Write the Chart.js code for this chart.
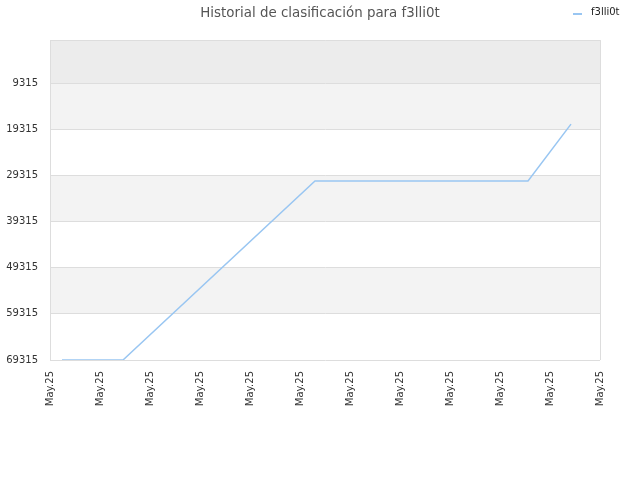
<!DOCTYPE html>
<html>
<head>
<meta charset="utf-8">
<script src="https://cdn.jsdelivr.net/npm/chart.js@4"></script>
<style>
  html, body { margin: 0; padding: 0; background: #fff; }
  #wrap { width: 640px; height: 480px; }
</style>
</head>
<body>
<div id="wrap"><canvas id="chart" width="640" height="480"></canvas></div>
<script>
const titleText = 'Historial de clasificación para f3lli0t';
const seriesName = 'f3lli0t';
const xLabel = 'May.25';
const xPos = [0.24, 1.46, 5.3, 9.56, 10.42];
const rankValues = [69315, 69315, 30545, 30545, 18200];
const yTicks = [0, 9315, 19315, 29315, 39315, 49315, 59315, 69315];
const bandColors = ['#ececec', '#f3f3f3', '#ffffff', '#f3f3f3', '#ffffff', '#f3f3f3', '#ffffff'];

const lineColor = '#99c6f2';
const font = '"DejaVu Sans", sans-serif';

// shaded bands behind the plot, plus the small legend next to the title
const decor = {
  id: 'decor',
  beforeDraw(chart) {
    const { ctx, chartArea } = chart;
    const y = chart.scales.y;
    ctx.save();
    for (let i = 0; i < bandColors.length; i++) {
      const top = y.getPixelForValue(yTicks[i]);
      const bot = y.getPixelForValue(yTicks[i + 1]);
      ctx.fillStyle = bandColors[i];
      ctx.fillRect(chartArea.left, top, chartArea.right - chartArea.left, bot - top);
    }
    ctx.restore();
  },
  afterDraw(chart) {
    const { ctx } = chart;
    ctx.save();
    ctx.strokeStyle = lineColor;
    ctx.lineWidth = 2;
    ctx.beginPath();
    ctx.moveTo(573, 14);
    ctx.lineTo(582, 14);
    ctx.stroke();
    ctx.fillStyle = '#222';
    ctx.font = '10px ' + font;
    ctx.textBaseline = 'middle';
    ctx.fillText(seriesName, 591, 12.5);
    ctx.restore();
  }
};

new Chart(document.getElementById('chart'), {
  type: 'line',
  data: {
    datasets: [{
      label: seriesName,
      data: xPos.map((x, i) => ({ x, y: rankValues[i] })),
      borderColor: lineColor,
      backgroundColor: lineColor,
      borderWidth: 1.5,
      pointRadius: 0,
      tension: 0
    }]
  },
  options: {
    responsive: false,
    animation: false,
    layout: { padding: 0 },
    plugins: {
      legend: { display: false },
      tooltip: { enabled: false },
      title: {
        display: true,
        text: titleText,
        color: '#555',
        font: { family: font, size: 13.4, weight: 'normal' },
        padding: { top: 5, bottom: 19 }
      }
    },
    scales: {
      x: {
        type: 'linear',
        min: 0,
        max: 11,
        afterFit(scale) { scale.height = 120; },
        ticks: {
          stepSize: 1,
          minRotation: 90,
          maxRotation: 90,
          padding: 11,
          color: '#333',
          font: { family: font, size: 10 },
          callback: () => xLabel
        },
        grid: {
          color: ctx => (ctx.index === 0 || ctx.index === 11) ? '#dddddd' : 'transparent',
          drawTicks: false
        },
        border: { display: false }
      },
      y: {
        reverse: true,
        min: 0,
        max: 69315,
        afterFit(scale) { scale.width = 50; },
        afterBuildTicks(scale) { scale.ticks = yTicks.map(v => ({ value: v })); },
        ticks: {
          color: '#333',
          padding: 12,
          font: { family: font, size: 10 },
          callback: v => v === 0 ? '' : String(v)
        },
        grid: { color: '#dddddd', drawTicks: false },
        border: { color: '#dddddd' }
      },
      yRight: {
        position: 'right',
        afterFit(scale) { scale.width = 40; },
        ticks: { display: false },
        grid: { display: false },
        border: { display: false }
      }
    }
  },
  plugins: [decor]
});
</script>
</body>
</html>
